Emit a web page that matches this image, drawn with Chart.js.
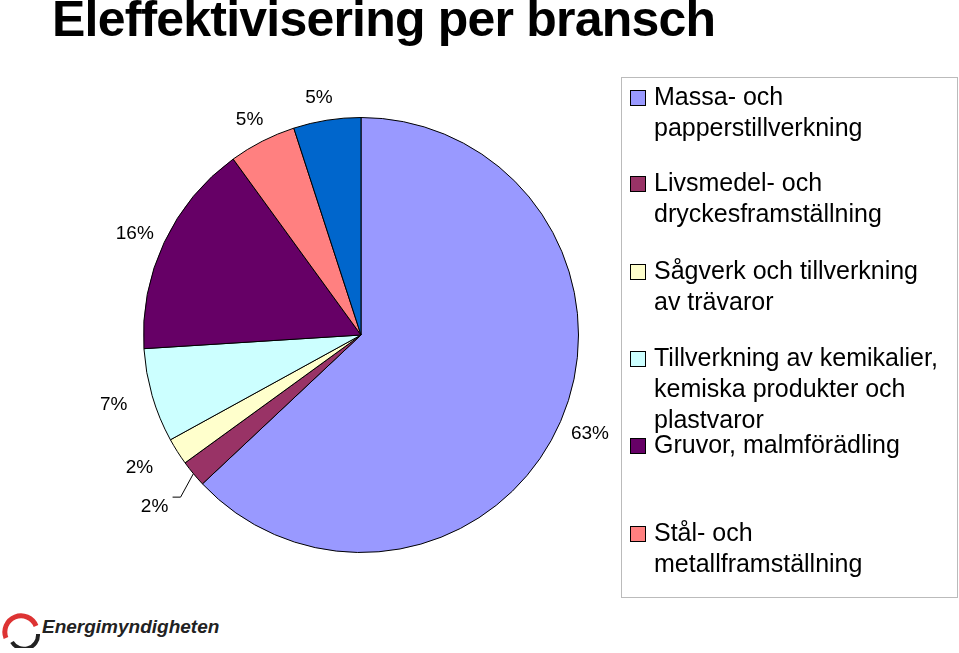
<!DOCTYPE html>
<html>
<head>
<meta charset="utf-8">
<script src="https://cdn.jsdelivr.net/npm/chart.js@4"></script>
<style>
  body { margin: 0; width: 959px; height: 653px; background: #fff; position: relative; overflow: hidden; font-family: Arial, "Liberation Sans", sans-serif; }
  #title { position: absolute; left: 52px; top: -10px; font-size: 50px; font-weight: bold; letter-spacing: -0.8px; }
  #wrap { position: absolute; left: 100px; top: 77px; width: 522px; height: 516px; }
  #legend { position: absolute; left: 621px; top: 77px; width: 335px; height: 519px; border: 1px solid #bbb; }
  .item { position: absolute; left: 32px; font-size: 25px; line-height: 31px; color: #000; white-space: nowrap; }
  .sw { position: absolute; left: -24px; top: 9px; width: 14px; height: 14px; border: 1px solid #000; }
  #logo { position: absolute; left: 2px; top: 608px; font-size: 19px; font-weight: bold; font-style: italic; color: #222; }
</style>
</head>
<body>
<div id="title">Eleffektivisering per bransch</div>
<div id="wrap"><canvas id="pie"></canvas></div>
<div id="legend"></div>
<div id="logo"><svg width="40" height="40" style="vertical-align:middle"><path d="M4 30 A16 16 0 1 1 34 18" stroke="#d33" stroke-width="5" fill="none"/><path d="M10 34 A14 14 0 0 0 36 26" stroke="#222" stroke-width="4" fill="none"/></svg>Energimyndigheten</div>
<script>
// data
const branscher = ['Massa- och\npapperstillverkning', 'Livsmedel- och\ndryckesframställning', 'Sågverk och tillverkning\nav trävaror', 'Tillverkning av kemikalier,\nkemiska produkter och\nplastvaror', 'Gruvor, malmförädling', 'Stål- och\nmetallframställning', 'Övrigt'];
const andelar = [63, 2, 2, 7, 16, 5, 5];
const farger = ['#9999FF', '#993366', '#FFFFCC', '#CCFFFF', '#660066', '#FF8080', '#0066CC'];
const legendTop = [3, 89, 177, 264, 351, 439];

const legend = document.getElementById('legend');
branscher.slice(0, 6).forEach((b, i) => {
  const d = document.createElement('div');
  d.className = 'item';
  d.style.top = legendTop[i] + 'px';
  d.innerHTML = '<span class="sw" style="background:' + farger[i] + '"></span>' + b.replace(/\n/g, '<br>');
  legend.appendChild(d);
});

// procentetiketter utanför pajen (små justeringar per etikett)
const labelOffsets = [
  { dr: 32, dx: 0, dy: 0 },
  { dr: 40, dx: 0, dy: 0, line: true },
  { dr: 45, dx: 0, dy: -8 },
  { dr: 40, dx: 0, dy: -2 },
  { dr: 38, dx: 5, dy: 8 },
  { dr: 28, dx: 0, dy: 4 },
  { dr: 26, dx: -4, dy: 3 }
];
const outsideLabels = {
  id: 'outsideLabels',
  afterDraw(chart) {
    const ctx = chart.ctx;
    const meta = chart.getDatasetMeta(0);
    ctx.save();
    ctx.font = '19px Arial, "Liberation Sans", sans-serif';
    ctx.fillStyle = '#000';
    ctx.textAlign = 'center';
    ctx.textBaseline = 'middle';
    meta.data.forEach((arc, i) => {
      const a = (arc.startAngle + arc.endAngle) / 2;
      const r = arc.outerRadius;
      const o = labelOffsets[i];
      let x = arc.x + Math.cos(a) * (r + o.dr) + o.dx;
      let y = arc.y + Math.sin(a) * (r + o.dr) + o.dy;
      if (o.line) {
        x -= 8; y += 8;
        ctx.strokeStyle = '#000';
        ctx.lineWidth = 1;
        ctx.beginPath();
        ctx.moveTo(arc.x + Math.cos(a) * r, arc.y + Math.sin(a) * r);
        ctx.lineTo(x + 26, y - 10);
        ctx.lineTo(x + 18, y - 10);
        ctx.stroke();
      }
      ctx.fillText(andelar[i] + '%', x, y);
    });
    ctx.restore();
  }
};

new Chart(document.getElementById('pie'), {
  type: 'pie',
  data: {
    labels: branscher,
    datasets: [{ data: andelar, backgroundColor: farger, borderColor: '#000', borderWidth: 1 }]
  },
  options: {
    responsive: true,
    maintainAspectRatio: false,
    animation: false,
    layout: { padding: 40 },
    plugins: { legend: { display: false }, tooltip: { enabled: false } }
  },
  plugins: [outsideLabels]
});
</script>
</body>
</html>
